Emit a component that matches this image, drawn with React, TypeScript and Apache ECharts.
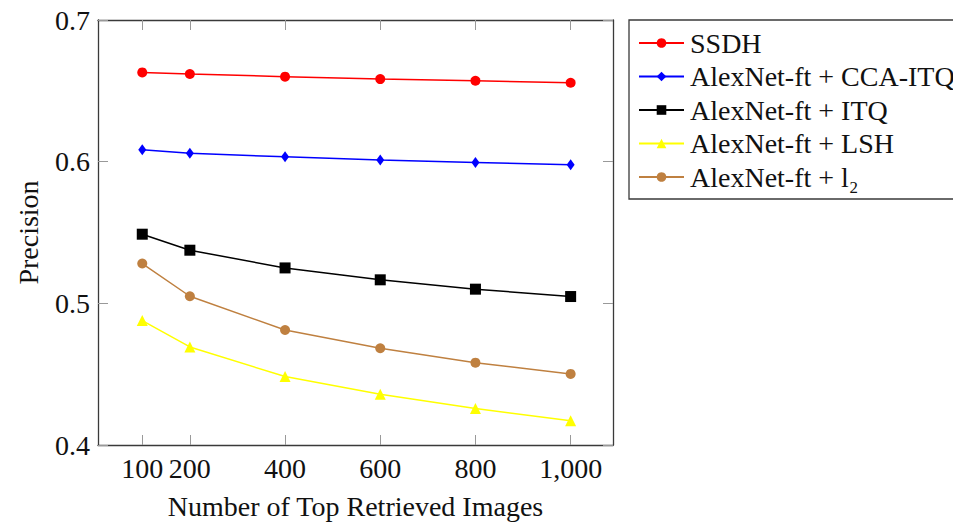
import React, { useEffect, useRef } from "react";
import * as echarts from "echarts";

const xValues = [100, 200, 400, 600, 800, 1000];
const xTickLabels = [100, 200, 400, 600, 800, 1000];
const yTickLabels = [0.4, 0.5, 0.6, 0.7];

const seriesNames = [
  "SSDH",
  "AlexNet-ft + CCA-ITQ",
  "AlexNet-ft + ITQ",
  "AlexNet-ft + LSH",
  "AlexNet-ft + l₂",
];
const ssdh = [0.663, 0.6619, 0.66, 0.6583, 0.6571, 0.6557];
const ccaItq = [0.6084, 0.606, 0.6034, 0.6011, 0.5994, 0.5978];
const itq = [0.5488, 0.5375, 0.525, 0.5166, 0.51, 0.5048];
const lsh = [0.4878, 0.4692, 0.4483, 0.4358, 0.4257, 0.4172];
const l2 = [0.5281, 0.505, 0.4812, 0.4683, 0.4581, 0.4502];

const colors = ["#ff0000", "#0000ff", "#000000", "#ffff00", "#bf8040"];
const symbols = ["circle", "diamond", "rect", "triangle", "circle"];
const symbolSizes: any[] = [10, [8, 11], 11, 11, 10];
const seriesData = [ssdh, ccaItq, itq, lsh, l2];

const FONT = "'Liberation Serif', 'DejaVu Serif', serif";
const FS = 28;

export default function App() {
  const ref = useRef<HTMLDivElement>(null);
  useEffect(() => {
    document.body.style.margin = "0";
    if (!ref.current) return;
    const chart = echarts.init(ref.current, undefined, { renderer: "svg" });
    const axisLineStyle = { color: "#3a3a3a", width: 1.3 };
    const tickStyle = { color: "#999999", width: 1 };
    const fmtX = (v: number) =>
      v >= 1000 ? `${Math.floor(v / 1000)},${String(v % 1000).padStart(3, "0")}` : String(v);
    chart.setOption({
      animation: false,
      backgroundColor: "#ffffff",
      textStyle: { fontFamily: FONT },
      grid: { left: 98, top: 20, right: 340, bottom: 81 },
      legend: {
        orient: "vertical",
        left: 629,
        top: 20,
        padding: [9, 9, 8, 9],
        itemWidth: 45,
        itemHeight: 12,
        itemGap: 5.5,
        borderColor: "#3a3a3a",
        borderWidth: 1.3,
        borderRadius: 0,
        backgroundColor: "#ffffff",
        textStyle: { fontFamily: FONT, fontSize: FS, color: "#111111", padding: [0, 0, 0, 1] },
        data: seriesNames,
      },
      xAxis: [
        {
          type: "value",
          min: 7,
          max: 1089,
          name: "Number of Top Retrieved Images",
          nameLocation: "middle",
          nameGap: 47,
          nameTextStyle: { fontFamily: FONT, fontSize: FS, color: "#111111" },
          axisLine: { show: true, onZero: false, lineStyle: axisLineStyle },
          axisTick: { show: true, inside: true, length: 10, lineStyle: tickStyle, customValues: xTickLabels },
          axisLabel: {
            show: true,
            customValues: xTickLabels,
            formatter: fmtX,
            fontFamily: FONT,
            fontSize: FS,
            color: "#111111",
            margin: 9,
          },
          splitLine: { show: false },
        },
        {
          type: "value",
          position: "top",
          min: 7,
          max: 1089,
          axisLine: { show: true, onZero: false, lineStyle: axisLineStyle },
          axisTick: { show: true, inside: true, length: 10, lineStyle: tickStyle, customValues: xTickLabels },
          axisLabel: { show: false },
          splitLine: { show: false },
        },
      ],
      yAxis: [
        {
          type: "value",
          min: 0.4,
          max: 0.7,
          name: "Precision",
          nameLocation: "middle",
          nameGap: 56,
          nameTextStyle: { fontFamily: FONT, fontSize: FS, color: "#111111" },
          axisLine: { show: true, onZero: false, lineStyle: axisLineStyle },
          axisTick: { show: true, inside: true, length: 10, lineStyle: tickStyle, customValues: yTickLabels },
          axisLabel: {
            show: true,
            customValues: yTickLabels,
            formatter: (v: number) => v.toFixed(1),
            fontFamily: FONT,
            fontSize: FS,
            color: "#111111",
            margin: 8,
          },
          splitLine: { show: false },
        },
        {
          type: "value",
          position: "right",
          min: 0.4,
          max: 0.7,
          axisLine: { show: true, onZero: false, lineStyle: axisLineStyle },
          axisTick: { show: true, inside: true, length: 10, lineStyle: tickStyle, customValues: yTickLabels },
          axisLabel: { show: false },
          splitLine: { show: false },
        },
      ],
      series: seriesNames.map((name, i) => ({
        name,
        type: "line",
        xAxisIndex: 0,
        yAxisIndex: 0,
        data: xValues.map((x, j) => [x, seriesData[i][j]]),
        symbol: symbols[i],
        symbolSize: symbolSizes[i],
        showAllSymbol: true,
        lineStyle: { color: colors[i], width: 1.5 },
        itemStyle: { color: colors[i], borderWidth: 0 },
        emphasis: { disabled: true },
      })),
    });
    return () => chart.dispose();
  }, []);
  return <div ref={ref} style={{ width: 953, height: 526 }} />;
}
